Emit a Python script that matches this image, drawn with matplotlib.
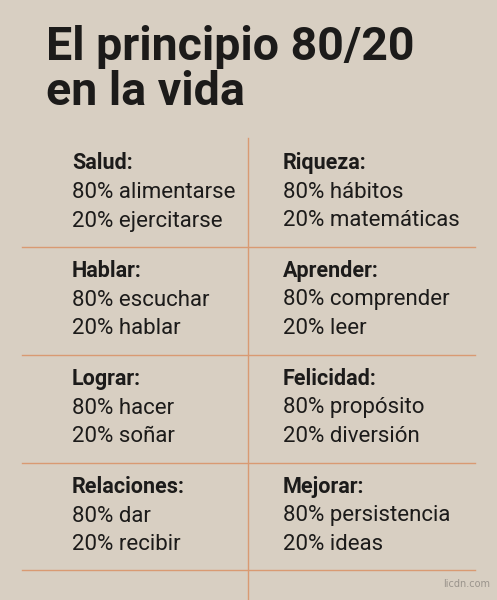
import matplotlib.pyplot as plt

# contenido de la tabla
titulos = ["Salud:", "Riqueza:", "Hablar:", "Aprender:", "Lograr:", "Felicidad:", "Relaciones:", "Mejorar:"]
linea_80 = ["80% alimentarse", "80% hábitos", "80% escuchar", "80% comprender",
            "80% hacer", "80% propósito", "80% dar", "80% persistencia"]
linea_20 = ["20% ejercitarse", "20% matemáticas", "20% hablar", "20% leer",
            "20% soñar", "20% diversión", "20% recibir", "20% ideas"]

W, H = 497, 600
fondo = "#d8cfc2"
naranja = "#d99a72"
tinta = "#1c1b1a"

fig = plt.figure(figsize=(W / 100, H / 100), dpi=100, facecolor=fondo)
ax = fig.add_axes([0, 0, 1, 1])
ax.set_xlim(0, W)
ax.set_ylim(H, 0)
ax.axis("off")
ax.set_facecolor(fondo)

ax.text(46, 47, "El principio 80/20", fontsize=33.5, fontweight="bold", family="Roboto",
        color=tinta, va="center")
ax.text(46, 92, "en la vida", fontsize=33.5, fontweight="bold", family="Roboto",
        color=tinta, va="center")

# lineas de la cuadricula
ax.plot([248, 248], [138, 600], color=naranja, lw=1)
for y in [247, 355, 463, 570]:
    ax.plot([22, 475], [y, y], color=naranja, lw=1)

for i in range(len(titulos)):
    fila, col = divmod(i, 2)
    x = 72 if col == 0 else 283
    y0 = 163 + fila * 108
    ax.text(x, y0, titulos[i], fontsize=15.5, fontweight="bold", family="Roboto",
            color=tinta, va="center")
    ax.text(x, y0 + 29, linea_80[i], fontsize=16, family="Roboto", color=tinta, va="center")
    ax.text(x, y0 + 58, linea_20[i], fontsize=16, family="Roboto", color=tinta, va="center")

ax.text(490, 584, "licdn.com", fontsize=7, color="#9a948c", ha="right", va="center")

fig.savefig("out.png", dpi=100, facecolor=fondo)
